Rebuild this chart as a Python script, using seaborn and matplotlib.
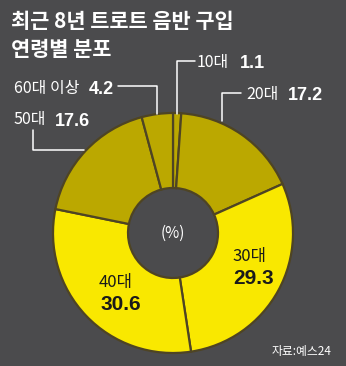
import matplotlib
matplotlib.use("Agg")
import matplotlib.pyplot as plt
import seaborn as sns
from matplotlib.lines import Line2D

# Data
categories = ["10대", "20대", "30대", "40대", "50대", "60대 이상"]
values = [1.1, 17.2, 29.3, 30.6, 17.6, 4.2]
value_labels = ["1.1", "17.2", "29.3", "30.6", "17.6", "4.2"]

sns.set_style("dark")
plt.rcParams['font.family'] = ['Noto Sans CJK KR', 'DejaVu Sans']

BG = "#4b4b4d"
DARK_Y = "#bba800"
BRIGHT_Y = "#f9e800"
EDGE = "#4e4424"
colors = [DARK_Y, DARK_Y, BRIGHT_Y, BRIGHT_Y, DARK_Y, DARK_Y]
NUM_FONT = ['Liberation Sans Narrow', 'Liberation Sans', 'DejaVu Sans']

W, H = 346, 366
fig = plt.figure(figsize=(W / 100, H / 100), dpi=100, facecolor=BG)

cx, cy, R = 173, 233, 120
ax = fig.add_axes([(cx - R) / W, (H - cy - R) / H, 2 * R / W, 2 * R / H])
ax.set_facecolor(BG)
ax.pie(values, colors=colors, startangle=90, counterclock=False, radius=1,
       wedgeprops=dict(width=0.625, edgecolor=EDGE, linewidth=1.6))
ax.set_xlim(-1, 1)
ax.set_ylim(-1, 1)
ax.set_aspect("equal")
ax.axis("off")


def fx(px):
    return px / W


def fy(py):
    return 1 - py / H


def line(xs, ys):
    fig.add_artist(Line2D([fx(x) for x in xs], [fy(y) for y in ys],
                          color="white", lw=1.1))


# Title
fig.text(fx(11), fy(22), "최근 8년 트로트 음반 구입", color="white",
         fontsize=15, fontweight="bold", va="center", ha="left")
fig.text(fx(11), fy(50), "연령별 분포", color="white",
         fontsize=15, fontweight="bold", va="center", ha="left")

lab_fs = 11.5
num_fs = 13

# outer labels: (category idx, x name, x num, y)
outer = [(0, 197, 240, 63), (1, 246, 288, 95), (5, 14, 89, 88), (4, 14, 55, 120)]
for i, xn, xv, y in outer:
    fig.text(fx(xn), fy(y), categories[i], color="white", fontsize=lab_fs,
             va="center", ha="left")
    fig.text(fx(xv), fy(y + 1), value_labels[i], color="white", fontsize=num_fs,
             fontweight="bold", va="center", ha="left", family=NUM_FONT)

# leader lines
line([195, 177, 177], [61, 61, 114])
line([241, 222, 222], [93, 93, 121])
line([118, 157, 157], [86, 86, 114])
line([33, 33, 84], [130, 150, 150])

# inner labels
fig.text(fx(232), fy(257), categories[2], color="#1a1a1a", fontsize=12,
         va="center", ha="left")
fig.text(fx(233), fy(279), value_labels[2], color="#1a1a1a", fontsize=15,
         fontweight="bold", va="center", ha="left", family=NUM_FONT)
fig.text(fx(99), fy(283), categories[3], color="#1a1a1a", fontsize=12,
         va="center", ha="left")
fig.text(fx(100), fy(305), value_labels[3], color="#1a1a1a", fontsize=15,
         fontweight="bold", va="center", ha="left", family=NUM_FONT)

fig.text(fx(cx), fy(cy), "(%)", color="white", fontsize=11, va="center", ha="center")
fig.text(fx(331), fy(352), "자료:예스24", color="white", fontsize=8.5,
         va="center", ha="right")

fig.savefig("out.png", dpi=100, facecolor=BG)
